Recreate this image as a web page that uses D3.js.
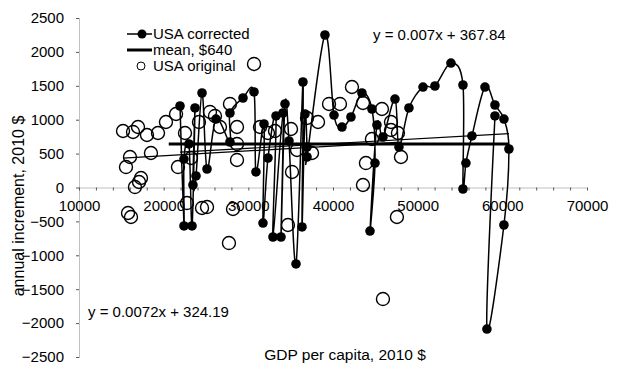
<!DOCTYPE html>
<html>
<head>
<meta charset="utf-8">
<script src="https://cdn.jsdelivr.net/npm/d3@7"></script>
<style>
  html, body { margin: 0; padding: 0; background: #fff; }
  svg { display: block; font-family: "Liberation Sans", Arial, sans-serif; }
</style>
</head>
<body>
<svg id="chart" width="618" height="373"></svg>
<script>
// ---- data ----
const correctedX = [21930,22400,22400,22990,23350,23700,23460,23820,24530,25120,26180,27830,27830,29370,30670,30900,31850,31730,32320,33270,32910,34090,33860,34330,34800,35630,36450,36340,36690,36930,36930,39050,40120,41060,42120,43420,44600,44960,44370,45190,45900,47320,47790,48970,50630,52040,53930,55350,55350,55700,56410,57950,59130,60190,60780,60190,58180,59130];
const correctedY = [1202,-567,420,642,-567,1173,37,170,1394,273,1010,671,1099,1320,1409,229,937,-524,435,1055,-730,1099,-730,1232,686,-1128,1556,-582,1084,597,450,2249,1069,892,1040,1394,1158,361,-642,922,745,1305,597,1173,1482,1497,1836,1512,-22,361,760,1482,1217,1010,568,-553,-2088,1055];

const originalX = [15200,16380,16970,18030,19330,20270,21460,18500,16020,15550,17320,17090,16610,15790,16140,21690,22520,24170,25470,22750,24530,25120,23230,26060,26650,27830,28660,28660,28660,27710,28190,31380,32320,33150,35040,35160,35750,34680,36930,38230,37520,39530,40820,42240,43540,45780,46850,46850,47670,44600,43890,48030,43540,47550,45900,30670];
const originalY = [833,819,892,774,804,966,1084,509,450,302,140,81,7,-376,-435,302,804,966,1114,-229,-302,-288,435,1055,892,1232,892,642,406,-819,-317,892,804,833,863,229,553,-553,1025,966,509,1232,1232,1482,1246,1158,966,848,804,715,361,450,37,-435,-1645,1822];

const meanX = [20600, 60800];
const meanValue = 640;

// linear trendlines (slope, intercept) and their x extents
const trendCorrected = { slope: 0.007, intercept: 367.84, x: [21930, 60780], label: "y = 0.007x + 367.84" };
const trendOriginal  = { slope: 0.0072, intercept: 324.19, x: [15200, 48030], label: "y = 0.0072x + 324.19" };

const xTickLabels = [10000,20000,30000,40000,50000,60000,70000];
const xMinorTicks = d3.range(10000, 70001, 2000);
const yTickLabels = [-2500,-2000,-1500,-1000,-500,0,500,1000,1500,2000,2500];

const legendLabels = ["USA corrected", "mean, $640", "USA original"];
const xTitle = "GDP per capita, 2010 $";
const yTitle = "annual increment, 2010 $";

// ---- drawing ----
const svg = d3.select("#chart");
const x = d3.scaleLinear().domain([10000, 70000]).range([79, 587]);
const y = d3.scaleLinear().domain([-2500, 2500]).range([357, 18]);
const FS = 15;
const axisColor = "#808080";
const fmt = d3.format("d");

// y axis
const yAxis = svg.append("g").attr("transform", `translate(${x(10000)},0)`)
  .call(d3.axisLeft(y).tickValues(yTickLabels).tickSize(3).tickPadding(12).tickSizeOuter(0).tickFormat(fmt));
yAxis.select(".domain").attr("stroke", axisColor).attr("stroke-dasharray", "1,1");
yAxis.selectAll(".tick line").attr("stroke", "#555");
yAxis.selectAll("text").attr("font-size", FS).attr("fill", "#000").attr("font-family", "Liberation Sans, Arial, sans-serif");

// x axis (at y = 0)
const xMinor = svg.append("g").attr("transform", `translate(0,${y(0)})`)
  .call(d3.axisBottom(x).tickValues(xMinorTicks).tickSize(3).tickFormat("").tickSizeOuter(0));
xMinor.select(".domain").attr("stroke", axisColor).attr("stroke-dasharray", "1,1");
xMinor.selectAll(".tick line").attr("stroke", "#555");

const xLab = svg.append("g").attr("transform", `translate(0,${y(0)})`)
  .call(d3.axisBottom(x).tickValues(xTickLabels).tickSize(0).tickPadding(13).tickFormat(fmt));
xLab.select(".domain").remove();
xLab.selectAll("text").attr("font-size", FS).attr("fill", "#000").attr("font-family", "Liberation Sans, Arial, sans-serif");

// mean line
svg.append("line")
  .attr("x1", x(meanX[0])).attr("x2", x(meanX[1]))
  .attr("y1", y(meanValue)).attr("y2", y(meanValue))
  .attr("stroke", "#000").attr("stroke-width", 3);

// trendlines
[trendCorrected, trendOriginal].forEach(t => {
  svg.append("line")
    .attr("x1", x(t.x[0])).attr("y1", y(t.slope * t.x[0] + t.intercept))
    .attr("x2", x(t.x[1])).attr("y2", y(t.slope * t.x[1] + t.intercept))
    .attr("stroke", "#000").attr("stroke-width", 1.2);
});

// corrected series: smoothed line + filled markers
const corrected = correctedX.map((v, i) => ({ x: v, y: correctedY[i] }));
const line = d3.line().x(d => x(d.x)).y(d => y(d.y)).curve(d3.curveCatmullRom.alpha(0));
svg.append("path").datum(corrected).attr("d", line)
  .attr("fill", "none").attr("stroke", "#000").attr("stroke-width", 1.5);
svg.append("g").selectAll("circle").data(corrected).join("circle")
  .attr("cx", d => x(d.x)).attr("cy", d => y(d.y)).attr("r", 4.8).attr("fill", "#000");

// original series: open markers
const original = originalX.map((v, i) => ({ x: v, y: originalY[i] }));
svg.append("g").selectAll("circle").data(original).join("circle")
  .attr("cx", d => x(d.x)).attr("cy", d => y(d.y)).attr("r", 6.5)
  .attr("fill", "none").attr("stroke", "#000").attr("stroke-width", 1.4);

// legend
const lg = svg.append("g");
const lx0 = 127, lx1 = 152, ly = [34, 50, 66];
lg.append("line").attr("x1", lx0).attr("x2", lx1).attr("y1", ly[0]).attr("y2", ly[0]).attr("stroke", "#000").attr("stroke-width", 1.5);
lg.append("circle").attr("cx", 142).attr("cy", ly[0]).attr("r", 4.5).attr("fill", "#000");
lg.append("line").attr("x1", lx0).attr("x2", lx1).attr("y1", ly[1]).attr("y2", ly[1]).attr("stroke", "#000").attr("stroke-width", 3);
lg.append("circle").attr("cx", 141).attr("cy", ly[2]).attr("r", 4).attr("fill", "none").attr("stroke", "#000").attr("stroke-width", 1);
legendLabels.forEach((t, i) => {
  lg.append("text").attr("x", 153).attr("y", ly[i]).attr("dy", "0.35em")
    .attr("font-size", FS).text(t);
});

// equations
svg.append("text").attr("x", 373).attr("y", 35).attr("dy", "0.35em").attr("font-size", FS).text(trendCorrected.label);
svg.append("text").attr("x", 88).attr("y", 312).attr("dy", "0.35em").attr("font-size", FS).text(trendOriginal.label);

// axis titles
svg.append("text").attr("x", 345).attr("y", 355).attr("dy", "0.35em").attr("text-anchor", "middle")
  .attr("font-size", 15.5).text(xTitle);
svg.append("text").attr("transform", "translate(18,206) rotate(-90)").attr("dy", "0.35em").attr("text-anchor", "middle")
  .attr("font-size", 16).text(yTitle);
</script>
</body>
</html>
